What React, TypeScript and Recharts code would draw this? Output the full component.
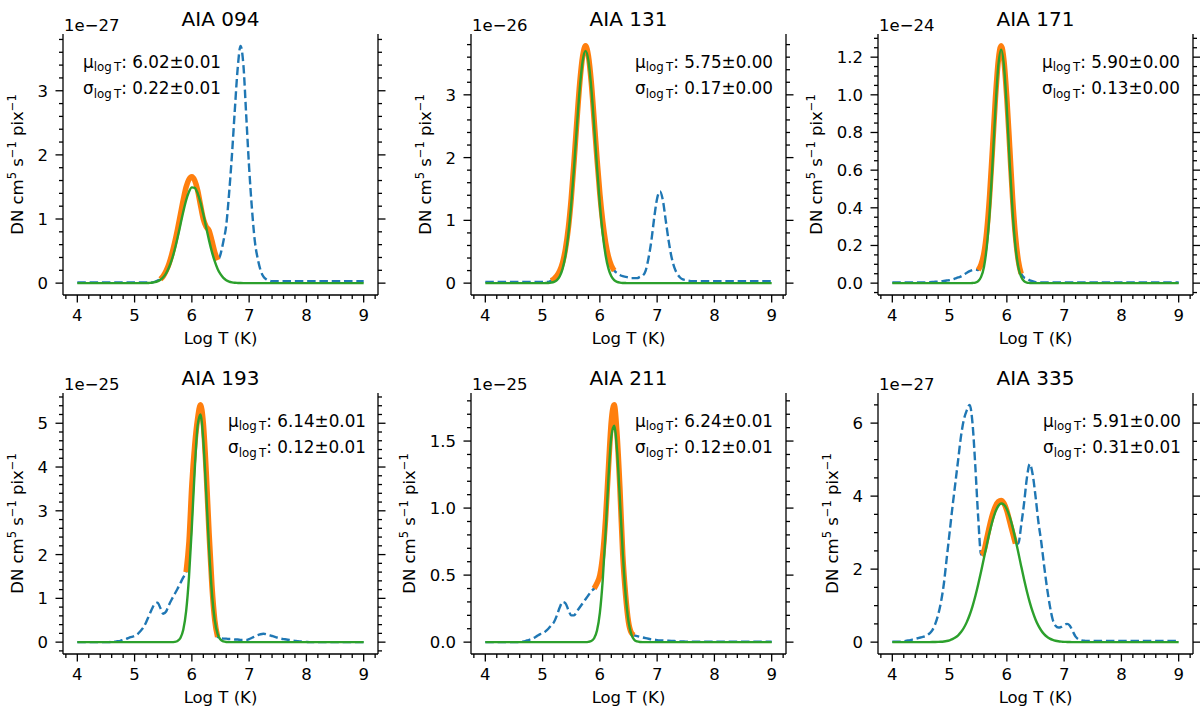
import React from 'react';
import { LineChart, Line, XAxis, YAxis } from 'recharts';

// temperature grid shared by every panel (log10 K)
const LOG_T = [
  4.00, 4.05, 4.10, 4.15, 4.20, 4.25, 4.30, 4.35, 4.40, 4.45,
  4.50, 4.55, 4.60, 4.65, 4.70, 4.75, 4.80, 4.85, 4.90, 4.95,
  5.00, 5.05, 5.10, 5.15, 5.20, 5.25, 5.30, 5.35, 5.40, 5.45,
  5.50, 5.55, 5.60, 5.65, 5.70, 5.75, 5.80, 5.85, 5.90, 5.95,
  6.00, 6.05, 6.10, 6.15, 6.20, 6.25, 6.30, 6.35, 6.40, 6.45,
  6.50, 6.55, 6.60, 6.65, 6.70, 6.75, 6.80, 6.85, 6.90, 6.95,
  7.00, 7.05, 7.10, 7.15, 7.20, 7.25, 7.30, 7.35, 7.40, 7.45,
  7.50, 7.55, 7.60, 7.65, 7.70, 7.75, 7.80, 7.85, 7.90, 7.95,
  8.00, 8.05, 8.10, 8.15, 8.20, 8.25, 8.30, 8.35, 8.40, 8.45,
  8.50, 8.55, 8.60, 8.65, 8.70, 8.75, 8.80, 8.85, 8.90, 8.95,
  9.00,
];

// AIA 094 (x 1e-27)
const RESP_094 = [
  0.01, 0.01, 0.01, 0.01, 0.01, 0.01, 0.01, 0.01, 0.01, 0.01,
  0.01, 0.01, 0.01, 0.01, 0.01, 0.01, 0.01, 0.01, 0.01, 0.01,
  0.01, 0.01, 0.01, 0.01, 0.01, 0.01, 0.01, 0.02, 0.04, 0.06,
  0.11, 0.19, 0.30, 0.45, 0.63, 0.84, 1.07, 1.30, 1.50, 1.62,
  1.66, 1.60, 1.45, 1.22, 1.00, 0.88, 0.82, 0.66, 0.48, 0.36,
  0.45, 0.65, 0.90, 1.40, 2.00, 2.70, 3.35, 3.70, 3.40, 2.60,
  1.80, 1.15, 0.65, 0.38, 0.20, 0.10, 0.06, 0.04, 0.03, 0.03,
  0.03, 0.03, 0.03, 0.03, 0.03, 0.03, 0.03, 0.03, 0.03, 0.03,
  0.03, 0.03, 0.03, 0.03, 0.03, 0.03, 0.03, 0.03, 0.03, 0.03,
  0.03, 0.03, 0.03, 0.03, 0.03, 0.03, 0.03, 0.03, 0.03, 0.03,
  0.03,
];
const GAUSS_094 = [
  0, 0, 0, 0, 0, 0, 0, 0, 0, 0,
  0, 0, 0, 0, 0, 0, 0, 0, 0, 0,
  0, 0, 0, 0, 0, 0.003, 0.007, 0.015, 0.028, 0.052,
  0.092, 0.153, 0.243, 0.365, 0.521, 0.707, 0.910, 1.113, 1.293, 1.426,
  1.494, 1.486, 1.404, 1.260, 1.073, 0.869, 0.667, 0.487, 0.338, 0.222,
  0.139, 0.082, 0.046, 0.025, 0.013, 0.006, 0.003, 0.001, 0, 0,
  0, 0, 0, 0, 0, 0, 0, 0, 0, 0,
  0, 0, 0, 0, 0, 0, 0, 0, 0, 0,
  0, 0, 0, 0, 0, 0, 0, 0, 0, 0,
  0, 0, 0, 0, 0, 0, 0, 0, 0, 0,
  0,
];
const FIT_094 = [5.45, 6.45];

// AIA 131 (x 1e-26)
const RESP_131 = [
  0.02, 0.02, 0.02, 0.02, 0.02, 0.02, 0.02, 0.02, 0.02, 0.02,
  0.02, 0.02, 0.02, 0.02, 0.02, 0.02, 0.02, 0.02, 0.02, 0.02,
  0.02, 0.02, 0.02, 0.04, 0.07, 0.12, 0.20, 0.33, 0.55, 0.88,
  1.35, 1.95, 2.60, 3.20, 3.62, 3.78, 3.62, 3.20, 2.60, 1.98,
  1.42, 0.98, 0.65, 0.42, 0.28, 0.20, 0.16, 0.13, 0.11, 0.10,
  0.09, 0.08, 0.08, 0.08, 0.10, 0.12, 0.20, 0.40, 0.68, 1.05,
  1.35, 1.46, 1.32, 1.00, 0.68, 0.42, 0.25, 0.15, 0.09, 0.06,
  0.05, 0.04, 0.03, 0.03, 0.03, 0.03, 0.03, 0.03, 0.03, 0.03,
  0.03, 0.03, 0.03, 0.03, 0.03, 0.03, 0.03, 0.03, 0.03, 0.03,
  0.03, 0.03, 0.03, 0.03, 0.03, 0.03, 0.03, 0.03, 0.03, 0.03,
  0.03,
];
const GAUSS_131 = [
  0, 0, 0, 0, 0, 0, 0, 0, 0, 0,
  0, 0, 0, 0, 0, 0, 0, 0, 0, 0,
  0, 0.001, 0.002, 0.007, 0.020, 0.049, 0.111, 0.232, 0.445, 0.780,
  1.255, 1.850, 2.510, 3.110, 3.540, 3.700, 3.540, 3.110, 2.510, 1.850,
  1.255, 0.780, 0.445, 0.232, 0.111, 0.049, 0.020, 0.007, 0.002, 0.001,
  0, 0, 0, 0, 0, 0, 0, 0, 0, 0,
  0, 0, 0, 0, 0, 0, 0, 0, 0, 0,
  0, 0, 0, 0, 0, 0, 0, 0, 0, 0,
  0, 0, 0, 0, 0, 0, 0, 0, 0, 0,
  0, 0, 0, 0, 0, 0, 0, 0, 0, 0,
  0,
];
const FIT_131 = [5.15, 6.25];

// AIA 171 (x 1e-24)
const RESP_171 = [
  0.003, 0.003, 0.003, 0.003, 0.003, 0.003, 0.003, 0.003, 0.003, 0.003,
  0.003, 0.003, 0.004, 0.005, 0.006, 0.007, 0.008, 0.010, 0.012, 0.014,
  0.016, 0.020, 0.025, 0.030, 0.036, 0.045, 0.055, 0.064, 0.070, 0.072,
  0.070, 0.100, 0.160, 0.280, 0.470, 0.720, 0.980, 1.180, 1.260, 1.180,
  0.980, 0.720, 0.450, 0.250, 0.120, 0.050, 0.030, 0.025, 0.015, 0.010,
  0.005, 0.003, 0.003, 0.003, 0.003, 0.003, 0.003, 0.003, 0.003, 0.003,
  0.003, 0.003, 0.003, 0.003, 0.003, 0.003, 0.003, 0.003, 0.003, 0.003,
  0.003, 0.003, 0.003, 0.003, 0.003, 0.003, 0.003, 0.003, 0.003, 0.003,
  0.003, 0.003, 0.003, 0.003, 0.003, 0.003, 0.003, 0.003, 0.003, 0.003,
  0.003, 0.003, 0.003, 0.003, 0.003, 0.003, 0.003, 0.003, 0.003, 0.003,
  0.003,
];
const GAUSS_171 = [
  0, 0, 0, 0, 0, 0, 0, 0, 0, 0,
  0, 0, 0, 0, 0, 0, 0, 0, 0, 0,
  0, 0, 0, 0, 0, 0, 0, 0, 0.001, 0.003,
  0.011, 0.033, 0.086, 0.195, 0.380, 0.637, 0.922, 1.152, 1.240, 1.152,
  0.922, 0.637, 0.380, 0.195, 0.086, 0.033, 0.011, 0.003, 0.001, 0,
  0, 0, 0, 0, 0, 0, 0, 0, 0, 0,
  0, 0, 0, 0, 0, 0, 0, 0, 0, 0,
  0, 0, 0, 0, 0, 0, 0, 0, 0, 0,
  0, 0, 0, 0, 0, 0, 0, 0, 0, 0,
  0, 0, 0, 0, 0, 0, 0, 0, 0, 0,
  0,
];
const FIT_171 = [5.5, 6.25];

// AIA 193 (x 1e-25)
const RESP_193 = [
  0, 0, 0, 0, 0, 0, 0, 0, 0, 0,
  0, 0, 0.005, 0.01, 0.02, 0.03, 0.05, 0.07, 0.10, 0.12,
  0.14, 0.18, 0.25, 0.33, 0.45, 0.60, 0.75, 0.87, 0.90, 0.78,
  0.65, 0.70, 0.85, 0.98, 1.10, 1.22, 1.35, 1.48, 1.60, 2.30,
  3.60, 4.50, 5.10, 5.42, 5.00, 3.90, 2.50, 1.30, 0.50, 0.12,
  0.09, 0.08, 0.08, 0.07, 0.07, 0.06, 0.06, 0.05, 0.05, 0.05,
  0.07, 0.10, 0.13, 0.16, 0.18, 0.19, 0.18, 0.16, 0.14, 0.12,
  0.10, 0.08, 0.07, 0.06, 0.05, 0.04, 0.03, 0.02, 0.015, 0.01,
  0.005, 0, 0, 0, 0, 0, 0, 0, 0, 0,
  0, 0, 0, 0, 0, 0, 0, 0, 0, 0,
  0,
];
const GAUSS_193 = [
  0, 0, 0, 0, 0, 0, 0, 0, 0, 0,
  0, 0, 0, 0, 0, 0, 0, 0, 0, 0,
  0, 0, 0, 0, 0, 0, 0, 0, 0, 0,
  0, 0, 0, 0, 0.006, 0.027, 0.095, 0.281, 0.706, 1.490,
  2.643, 3.940, 4.940, 5.200, 4.610, 3.430, 2.146, 1.130, 0.499, 0.185,
  0.058, 0.015, 0.003, 0, 0, 0, 0, 0, 0, 0,
  0, 0, 0, 0, 0, 0, 0, 0, 0, 0,
  0, 0, 0, 0, 0, 0, 0, 0, 0, 0,
  0, 0, 0, 0, 0, 0, 0, 0, 0, 0,
  0, 0, 0, 0, 0, 0, 0, 0, 0, 0,
  0,
];
const FIT_193 = [5.9, 6.45];

// AIA 211 (x 1e-25)
const RESP_211 = [
  0, 0, 0, 0, 0, 0, 0, 0, 0, 0,
  0, 0, 0, 0.003, 0.008, 0.015, 0.022, 0.032, 0.045, 0.058,
  0.065, 0.080, 0.100, 0.125, 0.150, 0.200, 0.260, 0.300, 0.290, 0.240,
  0.200, 0.200, 0.230, 0.260, 0.290, 0.320, 0.350, 0.380, 0.400, 0.440,
  0.500, 0.650, 0.920, 1.300, 1.650, 1.770, 1.550, 1.150, 0.650, 0.350,
  0.150, 0.070, 0.050, 0.045, 0.040, 0.035, 0.030, 0.025, 0.020, 0.018,
  0.015, 0.013, 0.012, 0.011, 0.010, 0.009, 0.008, 0.007, 0.006, 0.005,
  0.004, 0.004, 0.004, 0.004, 0.004, 0.004, 0.004, 0.004, 0.004, 0.004,
  0.003, 0.003, 0.003, 0.003, 0.003, 0.003, 0.003, 0.003, 0.003, 0.003,
  0.003, 0.003, 0.003, 0.003, 0.003, 0.003, 0.003, 0.003, 0.003, 0.003,
  0.003,
];
const GAUSS_211 = [
  0, 0, 0, 0, 0, 0, 0, 0, 0, 0,
  0, 0, 0, 0, 0, 0, 0, 0, 0, 0,
  0, 0, 0, 0, 0, 0, 0, 0, 0, 0,
  0, 0, 0, 0, 0, 0, 0.002, 0.008, 0.029, 0.087,
  0.219, 0.463, 0.820, 1.223, 1.532, 1.614, 1.430, 1.064, 0.666, 0.350,
  0.155, 0.058, 0.018, 0.005, 0.001, 0, 0, 0, 0, 0,
  0, 0, 0, 0, 0, 0, 0, 0, 0, 0,
  0, 0, 0, 0, 0, 0, 0, 0, 0, 0,
  0, 0, 0, 0, 0, 0, 0, 0, 0, 0,
  0, 0, 0, 0, 0, 0, 0, 0, 0, 0,
  0,
];
const FIT_211 = [5.9, 6.6];

// AIA 335 (x 1e-27)
const RESP_335 = [
  0.01, 0.01, 0.01, 0.015, 0.02, 0.04, 0.05, 0.07, 0.09, 0.11,
  0.13, 0.15, 0.18, 0.24, 0.33, 0.50, 0.75, 1.10, 1.60, 2.30,
  3.00, 3.70, 4.35, 5.00, 5.65, 6.10, 6.35, 6.50, 6.00, 4.80,
  3.40, 2.40, 2.50, 2.85, 3.20, 3.50, 3.72, 3.85, 3.88, 3.80,
  3.60, 3.30, 3.00, 2.70, 2.70, 3.20, 3.80, 4.50, 4.88, 4.60,
  4.00, 3.30, 2.75, 2.10, 1.50, 1.00, 0.62, 0.45, 0.40, 0.42,
  0.47, 0.50, 0.45, 0.30, 0.15, 0.08, 0.05, 0.04, 0.03, 0.03,
  0.03, 0.03, 0.03, 0.03, 0.03, 0.03, 0.03, 0.03, 0.03, 0.03,
  0.03, 0.03, 0.03, 0.03, 0.03, 0.03, 0.03, 0.03, 0.03, 0.03,
  0.03, 0.03, 0.03, 0.03, 0.03, 0.03, 0.03, 0.03, 0.03, 0.03,
  0.03,
];
const GAUSS_335 = [
  0, 0, 0, 0, 0, 0, 0, 0, 0, 0,
  0, 0, 0, 0.001, 0.002, 0.003, 0.006, 0.011, 0.019, 0.031,
  0.051, 0.081, 0.125, 0.188, 0.276, 0.394, 0.548, 0.743, 0.982, 1.264,
  1.585, 1.936, 2.305, 2.673, 3.020, 3.326, 3.568, 3.730, 3.798, 3.768,
  3.643, 3.430, 3.150, 2.815, 2.453, 2.082, 1.722, 1.388, 1.090, 0.833,
  0.621, 0.451, 0.319, 0.220, 0.148, 0.097, 0.062, 0.038, 0.023, 0.014,
  0.008, 0.005, 0.002, 0.001, 0, 0, 0, 0, 0, 0,
  0, 0, 0, 0, 0, 0, 0, 0, 0, 0,
  0, 0, 0, 0, 0, 0, 0, 0, 0, 0,
  0, 0, 0, 0, 0, 0, 0, 0, 0, 0,
  0,
];
const FIT_335 = [5.55, 6.15];

// tick labels
const X_TICKS = [4, 5, 6, 7, 8, 9];
const Y_TICKS_094 = [0, 1, 2, 3];
const Y_TICKS_131 = [0, 1, 2, 3];
const Y_TICKS_171 = [0, 0.2, 0.4, 0.6, 0.8, 1.0, 1.2];
const Y_TICKS_193 = [0, 1, 2, 3, 4, 5];
const Y_TICKS_211 = [0, 0.5, 1.0, 1.5];
const Y_TICKS_335 = [0, 2, 4, 6];

const PANELS = [
  { title: 'AIA 094', exp: '1e\u221227', resp: RESP_094, gauss: GAUSS_094, fit: FIT_094, mu: '6.02\u00b10.01', sigma: '0.22\u00b10.01', yTicks: Y_TICKS_094, yMinor: 0.2, digits: 0, noteX: 20 },
  { title: 'AIA 131', exp: '1e\u221226', resp: RESP_131, gauss: GAUSS_131, fit: FIT_131, mu: '5.75\u00b10.00', sigma: '0.17\u00b10.00', yTicks: Y_TICKS_131, yMinor: 0.2, digits: 0, noteX: 164 },
  { title: 'AIA 171', exp: '1e\u221224', resp: RESP_171, gauss: GAUSS_171, fit: FIT_171, mu: '5.90\u00b10.00', sigma: '0.13\u00b10.00', yTicks: Y_TICKS_171, yMinor: 0.05, digits: 1, noteX: 164 },
  { title: 'AIA 193', exp: '1e\u221225', resp: RESP_193, gauss: GAUSS_193, fit: FIT_193, mu: '6.14\u00b10.01', sigma: '0.12\u00b10.01', yTicks: Y_TICKS_193, yMinor: 0.2, digits: 0, noteX: 165 },
  { title: 'AIA 211', exp: '1e\u221225', resp: RESP_211, gauss: GAUSS_211, fit: FIT_211, mu: '6.24\u00b10.01', sigma: '0.12\u00b10.01', yTicks: Y_TICKS_211, yMinor: 0.1, digits: 1, noteX: 164 },
  { title: 'AIA 335', exp: '1e\u221227', resp: RESP_335, gauss: GAUSS_335, fit: FIT_335, mu: '5.91\u00b10.00', sigma: '0.31\u00b10.01', yTicks: Y_TICKS_335, yMinor: 0.5, digits: 0, noteX: 165 },
];

const FONT = "'DejaVu Sans', sans-serif";
const PLOT_W = 315;
const PLOT_H = 261;
const PLOT_LEFTS = [63, 471, 878];
const PLOT_TOPS = [34, 393];
const M = 5;
const Y_AXIS_W = 50;
const RIGHT_W = 10;
const X_AXIS_H = 30;
const X_DOMAIN = [3.75, 9.25];
const MAJOR_LEN = 7.5;
const MINOR_LEN = 4;
const TICK_FS = 16.5;

const stepTicks = (lo: number, hi: number, step: number) => {
  const out: number[] = [];
  for (let k = Math.ceil(lo / step - 1e-9); k * step <= hi + 1e-9; k++) {
    out.push(Math.round(k * step * 1e6) / 1e6);
  }
  return out;
};

const isIn = (v: number, list: number[]) => list.some((m) => Math.abs(m - v) < 1e-6);

const X_ALL_TICKS = stepTicks(X_DOMAIN[0], X_DOMAIN[1], 0.2)
  .concat(X_TICKS)
  .filter((v, i, a) => a.findIndex((w) => Math.abs(w - v) < 1e-6) === i)
  .sort((a, b) => a - b);

const axisStyle = { stroke: '#000', strokeWidth: 1.3 };

const BottomTick = (props: any) => {
  const { x, y, payload } = props;
  const major = isIn(payload.value, X_TICKS);
  return (
    <g>
      <line x1={x} x2={x} y1={y} y2={y + (major ? MAJOR_LEN : MINOR_LEN)} stroke="#000" strokeWidth={1.3} />
      {major && (
        <text x={x} y={y + 26} textAnchor="middle" fontSize={TICK_FS} fontFamily={FONT} fill="#000">
          {payload.value}
        </text>
      )}
    </g>
  );
};

const SideTick = (props: any) => {
  const { x, y, payload, majors, digits, side } = props;
  const major = isIn(payload.value, majors);
  const dir = side === 'left' ? -1 : 1;
  return (
    <g>
      <line x1={x} x2={x + dir * (major ? MAJOR_LEN : MINOR_LEN)} y1={y} y2={y} stroke="#000" strokeWidth={1.3} />
      {major && side === 'left' && (
        <text x={x - 15} y={y + 6} textAnchor="end" fontSize={TICK_FS} fontFamily={FONT} fill="#000">
          {payload.value.toFixed(digits)}
        </text>
      )}
    </g>
  );
};

const Panel = ({ p, left, top }: any) => {
  const rows = LOG_T.map((t, i) => ({
    t,
    resp: p.resp[i],
    fit: t >= p.fit[0] - 1e-9 && t <= p.fit[1] + 1e-9 ? p.resp[i] : null,
    gauss: p.gauss[i],
  }));
  const peak = Math.max(...p.resp, ...p.gauss);
  const yDomain = [-0.05 * peak, 1.05 * peak];
  const yAll = stepTicks(yDomain[0], yDomain[1], p.yMinor);

  return (
    <div style={{ position: 'absolute', left: left - M - Y_AXIS_W, top: top - M }}>
      <LineChart
        width={PLOT_W + Y_AXIS_W + RIGHT_W + 2 * M}
        height={PLOT_H + X_AXIS_H + 2 * M}
        data={rows}
        margin={{ top: M, right: M, bottom: M, left: M }}
      >
        <XAxis
          xAxisId="main"
          dataKey="t"
          type="number"
          domain={X_DOMAIN}
          allowDataOverflow
          ticks={X_ALL_TICKS}
          interval={0}
          height={X_AXIS_H}
          tickSize={0}
          tickMargin={0}
          tickLine={false}
          axisLine={axisStyle}
          tick={(tp: any) => <BottomTick {...tp} />}
        />
        <XAxis
          xAxisId="top"
          orientation="top"
          dataKey="t"
          type="number"
          domain={X_DOMAIN}
          allowDataOverflow
          height={0}
          tick={false}
          tickLine={false}
          axisLine={axisStyle}
        />
        <YAxis
          yAxisId="left"
          type="number"
          domain={yDomain}
          allowDataOverflow
          ticks={yAll}
          interval={0}
          width={Y_AXIS_W}
          tickSize={0}
          tickMargin={0}
          tickLine={false}
          axisLine={axisStyle}
          tick={(tp: any) => <SideTick {...tp} majors={p.yTicks} digits={p.digits} side="left" />}
        />
        <YAxis
          yAxisId="right"
          orientation="right"
          type="number"
          domain={yDomain}
          allowDataOverflow
          ticks={yAll}
          interval={0}
          width={RIGHT_W}
          tickSize={0}
          tickMargin={0}
          tickLine={false}
          axisLine={axisStyle}
          tick={(tp: any) => <SideTick {...tp} majors={p.yTicks} digits={p.digits} side="right" />}
        />
        <Line
          xAxisId="main"
          yAxisId="left"
          type="monotone"
          dataKey="resp"
          stroke="#1f77b4"
          strokeWidth={2.4}
          strokeDasharray="8.5 3.8"
          dot={false}
          activeDot={false}
          isAnimationActive={false}
        />
        <Line
          xAxisId="main"
          yAxisId="left"
          type="monotone"
          dataKey="fit"
          stroke="#ff7f0e"
          strokeWidth={5.5}
          dot={false}
          activeDot={false}
          isAnimationActive={false}
        />
        <Line
          xAxisId="main"
          yAxisId="left"
          type="monotone"
          dataKey="gauss"
          stroke="#2ca02c"
          strokeWidth={2.4}
          dot={false}
          activeDot={false}
          isAnimationActive={false}
        />
      </LineChart>
    </div>
  );
};

const PanelText = ({ p, left, top }: any) => {
  const cx = left + PLOT_W / 2;
  const cy = top + PLOT_H / 2;
  // the label sits further out when the tick labels carry a decimal
  const labelX = left - (p.digits > 0 ? 56 : 40);
  return (
    <g fontFamily={FONT} fill="#000">
      <text x={cx} y={top - 8} textAnchor="middle" fontSize={20}>{p.title}</text>
      <text x={left + 1} y={top - 3} fontSize={TICK_FS}>{p.exp}</text>
      <text x={cx} y={top + PLOT_H + 49} textAnchor="middle" fontSize={16.5}>Log T (K)</text>
      <text transform={`translate(${labelX},${cy}) rotate(-90)`} textAnchor="middle" fontSize={16.5}>
        DN cm<tspan dy={-7} fontSize={11.5}>5</tspan>
        <tspan dy={7}> s</tspan><tspan dy={-7} fontSize={11.5}>{'\u22121'}</tspan>
        <tspan dy={7}> pix</tspan><tspan dy={-7} fontSize={11.5}>{'\u22121'}</tspan>
      </text>
      <text x={left + p.noteX} y={top + 33.5} fontSize={16.8}>
        {'\u03bc'}<tspan dy={3.5} fontSize={11.8}>{'log\u2009T'}</tspan><tspan dy={-3.5}>{': ' + p.mu}</tspan>
      </text>
      <text x={left + p.noteX} y={top + 60} fontSize={16.8}>
        {'\u03c3'}<tspan dy={3.5} fontSize={11.8}>{'log\u2009T'}</tspan><tspan dy={-3.5}>{': ' + p.sigma}</tspan>
      </text>
    </g>
  );
};

export default function App() {
  return (
    <div style={{ position: 'absolute', left: 0, top: 0, width: 1200, height: 711, background: '#fff', fontFamily: FONT }}>
      {PANELS.map((p, i) => (
        <Panel key={p.title} p={p} left={PLOT_LEFTS[i % 3]} top={PLOT_TOPS[Math.floor(i / 3)]} />
      ))}
      <svg width={1200} height={711} style={{ position: 'absolute', left: 0, top: 0, pointerEvents: 'none' }}>
        {PANELS.map((p, i) => (
          <PanelText key={p.title} p={p} left={PLOT_LEFTS[i % 3]} top={PLOT_TOPS[Math.floor(i / 3)]} />
        ))}
      </svg>
    </div>
  );
}
